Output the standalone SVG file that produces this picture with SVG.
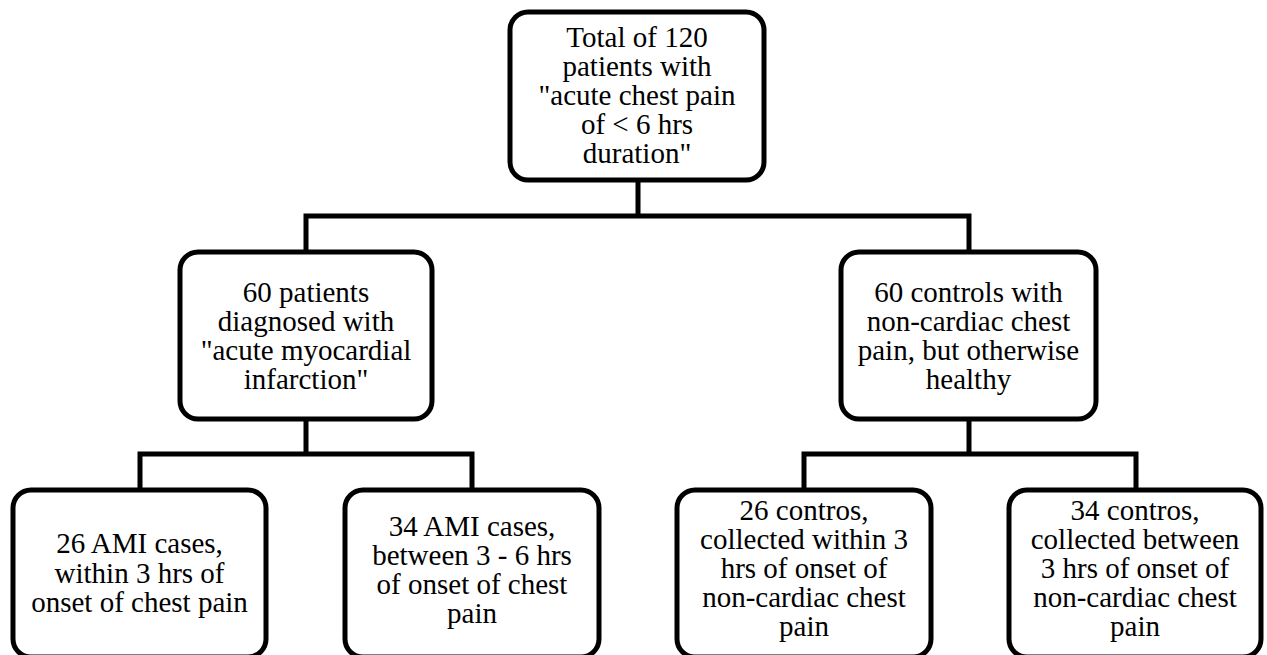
<svg xmlns="http://www.w3.org/2000/svg" width="1267" height="655" viewBox="0 0 1267 655">
<style>
.box{fill:#fff;stroke:#000;stroke-width:5}
.t{font-family:"Liberation Serif","Times New Roman",serif;font-size:29px;fill:#000;text-anchor:middle}
.c{fill:none;stroke:#000;stroke-width:5;stroke-linejoin:miter}
</style>
<rect width="1267" height="655" fill="#fff"/>
<g id="connectors">
<path class="c" d="M638,180 V216 M306,252 V216 H969 V252"/>
<path class="c" d="M306,419 V454 M140,490 V454 H472 V490"/>
<path class="c" d="M969,419 V454 M804,490 V454 H1136 V490"/>
</g>
<g id="n-total">
<rect class="box" x="510" y="12" width="254" height="168" rx="18"/>
<text class="t"><tspan x="637" y="47">Total of 120</tspan><tspan x="637" y="76">patients with</tspan><tspan x="637" y="105">"acute chest pain</tspan><tspan x="637" y="134">of &lt; 6 hrs</tspan><tspan x="637" y="163">duration"</tspan></text>
</g>
<g id="n-ami">
<rect class="box" x="180" y="252" width="252" height="167" rx="18"/>
<text class="t"><tspan x="306" y="302">60 patients</tspan><tspan x="306" y="331">diagnosed with</tspan><tspan x="306" y="360">"acute myocardial</tspan><tspan x="306" y="389">infarction"</tspan></text>
</g>
<g id="n-controls">
<rect class="box" x="841" y="252" width="255" height="167" rx="18"/>
<text class="t"><tspan x="968.5" y="302">60 controls with</tspan><tspan x="968.5" y="331">non-cardiac chest</tspan><tspan x="968.5" y="360">pain, but otherwise</tspan><tspan x="968.5" y="389">healthy</tspan></text>
</g>
<g id="n-ami-3">
<rect class="box" x="13" y="490" width="253" height="167" rx="18"/>
<text class="t"><tspan x="139.5" y="553">26 AMI cases,</tspan><tspan x="139.5" y="583">within 3 hrs of</tspan><tspan x="139.5" y="612">onset of chest pain</tspan></text>
</g>
<g id="n-ami-6">
<rect class="box" x="345" y="490" width="254" height="167" rx="18"/>
<text class="t"><tspan x="472" y="536">34 AMI cases,</tspan><tspan x="472" y="565">between 3 - 6 hrs</tspan><tspan x="472" y="594">of onset of chest</tspan><tspan x="472" y="623">pain</tspan></text>
</g>
<g id="n-ctrl-3">
<rect class="box" x="677" y="490" width="254" height="167" rx="18"/>
<text class="t"><tspan x="804" y="520">26 contros,</tspan><tspan x="804" y="549">collected within 3</tspan><tspan x="804" y="578">hrs of onset of</tspan><tspan x="804" y="607">non-cardiac chest</tspan><tspan x="804" y="636">pain</tspan></text>
</g>
<g id="n-ctrl-6">
<rect class="box" x="1009" y="490" width="252" height="167" rx="18"/>
<text class="t"><tspan x="1135" y="520">34 contros,</tspan><tspan x="1135" y="549">collected between</tspan><tspan x="1135" y="578">3 hrs of onset of</tspan><tspan x="1135" y="607">non-cardiac chest</tspan><tspan x="1135" y="636">pain</tspan></text>
</g>
</svg>
